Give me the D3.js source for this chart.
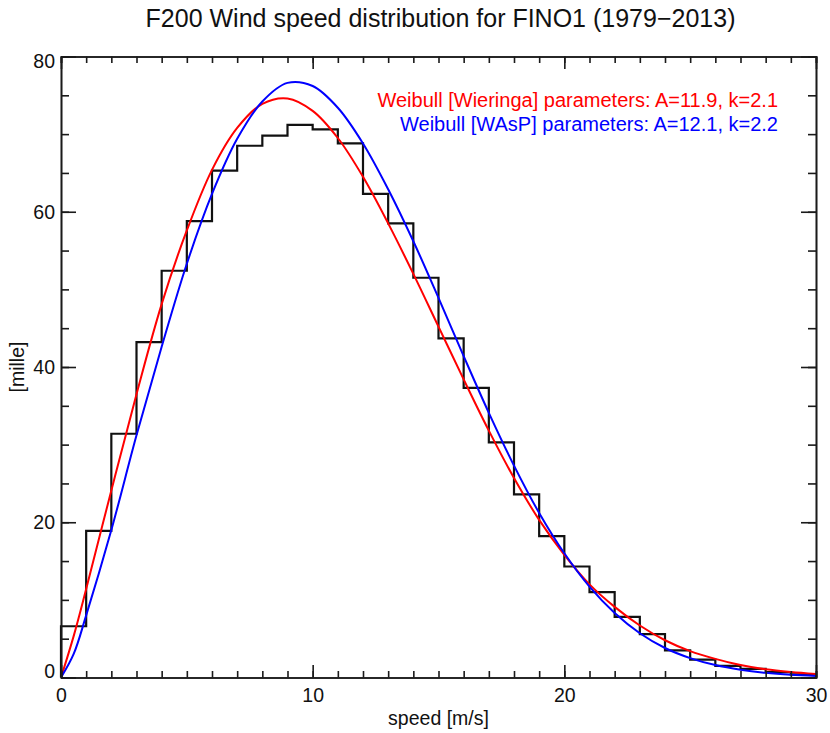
<!DOCTYPE html>
<html>
<head>
<meta charset="utf-8">
<script src="https://cdn.jsdelivr.net/npm/d3@7"></script>
<style>
  body { margin: 0; background: #fff; }
  svg { display: block; font-family: "Liberation Sans", Arial, Helvetica, sans-serif; }
</style>
</head>
<body>
<svg id="chart" width="830" height="733"></svg>
<script>
// ---- data ----
const title = "F200 Wind speed distribution for FINO1 (1979\u22122013)";
const xLabel = "speed [m/s]";
const yLabel = "[mille]";

// histogram: frequency (per mille) per 1 m/s bin, bins 0-1 ... 29-30
const binStarts = [0,1,2,3,4,5,6,7,8,9,10,11,12,13,14,15,16,17,18,19,20,21,22,23,24,25,26,27,28,29];
const binValues = [6.6,18.9,31.4,43.2,52.4,58.8,65.3,68.5,69.8,71.2,70.6,68.8,62.3,58.5,51.5,43.7,37.3,30.3,23.6,18.2,14.3,11.0,7.8,5.6,3.5,2.3,1.5,1.1,0.7,0.4];

// Weibull fit curves
const curveSpeeds = [0,0.5,1,2,3,4,5,6,7,8,9,10,11,12,13,14,15,16,17,18,19,20,21,22,23,24,25,26,27,28,29,30];
const wieringaValues = [0,5.3,11.4,24.1,36.5,48.1,57.6,65.4,70.8,73.9,74.6,73.0,69.5,64.5,58.5,52.0,45.2,38.4,31.8,25.7,20.3,15.8,12.0,9.1,6.7,4.8,3.4,2.4,1.6,1.05,0.7,0.45];
const waspValues     = [0,3.0,8.0,19.0,31.2,42.6,53.3,62.3,69.4,74.2,76.6,76.2,73.4,68.8,62.9,56.2,48.9,41.4,34.1,27.3,21.2,16.0,11.7,8.3,5.7,3.8,2.5,1.6,1.0,0.6,0.35,0.2];

const legendLabels = ["Weibull [Wieringa] parameters: A=11.9, k=2.1", "Weibull [WAsP] parameters: A=12.1, k=2.2"];
const legendColors = ["#ff0000", "#0000ff"];

const xMajor = [0,10,20,30];
const xMinor = d3.range(0, 31, 1);
const yMajor = [0,20,40,60,80];
const yMinor = d3.range(0, 81, 5);

// ---- layout ----
const svg = d3.select("#chart");
const L = 61, R = 816, T = 56.5, B = 677.5;
const x = d3.scaleLinear().domain([0,30]).range([L,R]);
const y = d3.scaleLinear().domain([0,80]).range([B,T]);
const axisColor = "#1a1a1a";
const tickFont = 19.5;

svg.append("rect").attr("width",830).attr("height",733).attr("fill","#fff");

// clip
svg.append("clipPath").attr("id","clip").append("rect")
  .attr("x",L).attr("y",T).attr("width",R-L).attr("height",B-T);

// histogram steps
const stepPts = [[0,0]];
binStarts.forEach((s,i) => { stepPts.push([s, binValues[i]]); stepPts.push([s+1, binValues[i]]); });
stepPts.push([30,0]);
svg.append("path")
  .attr("d", d3.line().x(d=>x(d[0])).y(d=>y(d[1]))(stepPts))
  .attr("fill","none").attr("stroke","#111").attr("stroke-width",2.2)
  .attr("stroke-linejoin","miter");

// curves
const curveLine = d3.line().x(d=>x(d[0])).y(d=>y(d[1])).curve(d3.curveCatmullRom.alpha(0.5));
const g = svg.append("g").attr("clip-path","url(#clip)");
g.append("path").attr("d", curveLine(curveSpeeds.map((s,i)=>[s,wieringaValues[i]])))
  .attr("fill","none").attr("stroke",legendColors[0]).attr("stroke-width",2);
g.append("path").attr("d", curveLine(curveSpeeds.map((s,i)=>[s,waspValues[i]])))
  .attr("fill","none").attr("stroke",legendColors[1]).attr("stroke-width",2);

// axes: ticks pointing inward on all four sides
function styleAxis(sel) {
  sel.select(".domain").attr("stroke",axisColor).attr("stroke-width",1.6);
  sel.selectAll(".tick line").attr("stroke",axisColor).attr("stroke-width",1.6);
  sel.selectAll("text").attr("font-size",tickFont).attr("fill","#111")
     .attr("font-family",'"Liberation Sans", Arial, Helvetica, sans-serif');
}
// bottom
svg.append("g").attr("transform",`translate(0,${B})`)
  .call(d3.axisBottom(x).tickValues(xMinor).tickSize(-6.5).tickFormat("")).call(styleAxis);
const bx = svg.append("g").attr("transform",`translate(0,${B})`)
  .call(d3.axisBottom(x).tickValues(xMajor).tickSizeInner(-12.5).tickSizeOuter(0).tickPadding(11).tickFormat(d3.format("d"))).call(styleAxis);
// top
svg.append("g").attr("transform",`translate(0,${T})`)
  .call(d3.axisTop(x).tickValues(xMinor).tickSize(-6.5).tickFormat("")).call(styleAxis);
svg.append("g").attr("transform",`translate(0,${T})`)
  .call(d3.axisTop(x).tickValues(xMajor).tickSizeInner(-12.5).tickSizeOuter(0).tickFormat("")).call(styleAxis);
// left
svg.append("g").attr("transform",`translate(${L},0)`)
  .call(d3.axisLeft(y).tickValues(yMinor).tickSize(-8).tickFormat("")).call(styleAxis);
const ly = svg.append("g").attr("transform",`translate(${L},0)`)
  .call(d3.axisLeft(y).tickValues(yMajor).tickSizeInner(-15).tickSizeOuter(0).tickPadding(6).tickFormat(d3.format("d"))).call(styleAxis);
// right
svg.append("g").attr("transform",`translate(${R},0)`)
  .call(d3.axisRight(y).tickValues(yMinor).tickSize(-8).tickFormat("")).call(styleAxis);
svg.append("g").attr("transform",`translate(${R},0)`)
  .call(d3.axisRight(y).tickValues(yMajor).tickSizeInner(-15).tickSizeOuter(0).tickFormat("")).call(styleAxis);

// nudge end labels of y axis inward as in the reference
ly.selectAll(".tick text").attr("dy", d => d === 0 ? "0.0em" : (d === 80 ? "0.58em" : "0.34em"));

// titles
svg.append("text").attr("x", (L+R)/2 + 2).attr("y", 27).attr("text-anchor","middle")
  .attr("font-size",25).attr("fill","#111").text(title);
svg.append("text").attr("x", (L+R)/2).attr("y", 725).attr("text-anchor","middle")
  .attr("font-size",tickFont).attr("fill","#111").text(xLabel);
svg.append("text").attr("transform",`translate(24,${(T+B)/2}) rotate(-90)`).attr("text-anchor","middle")
  .attr("font-size",tickFont).attr("fill","#111").text(yLabel);

// legend
legendLabels.forEach((t,i) => {
  svg.append("text").attr("x", 778).attr("y", 106.5 + i*24).attr("text-anchor","end")
    .attr("font-size",20).attr("fill",legendColors[i]).text(t);
});
</script>
</body>
</html>
